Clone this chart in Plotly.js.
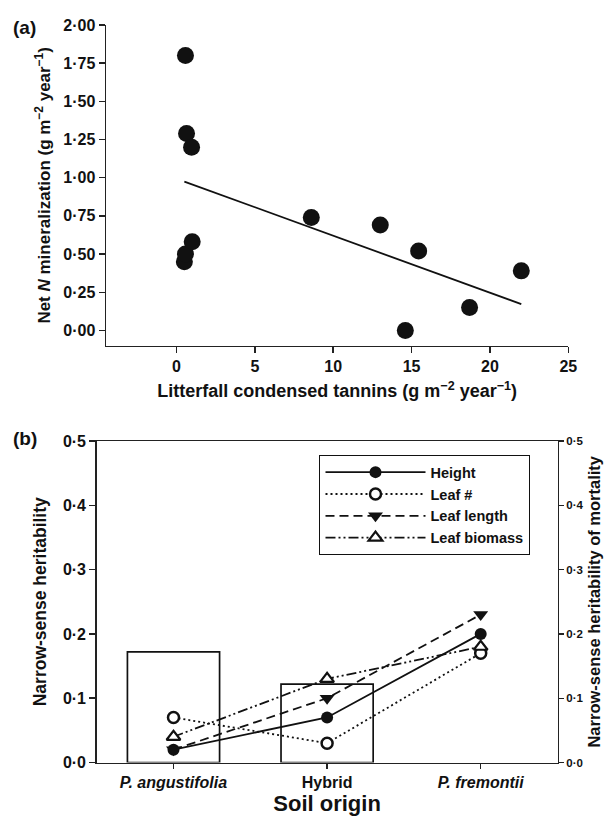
<!DOCTYPE html>
<html>
<head>
<meta charset="utf-8">
<script src="https://cdn.plot.ly/plotly-3.0.1.min.js"></script>
<style>html,body{margin:0;padding:0;background:#fff;}#chart{width:611px;height:816px;}</style>
</head>
<body>
<div id="chart"></div>
<script>
// ---- Panel (a) data ----
var tannins = [0.57, 0.64, 0.96, 0.50, 0.57, 1.00, 8.6, 13.0, 15.45, 14.6, 18.7, 22.0];
var netNMin = [1.80, 1.29, 1.20, 0.45, 0.50, 0.58, 0.74, 0.69, 0.52, 0.00, 0.15, 0.39];
var fitX = [0.5, 22.0];
var fitY = [0.975, 0.172];
var aYTickVals = [0, 0.25, 0.5, 0.75, 1.0, 1.25, 1.5, 1.75, 2.0];
var aYTickText = ['0·00', '0·25', '0·50', '0·75', '1·00', '1·25', '1·50', '1·75', '2·00'];
var aXTickVals = [0, 5, 10, 15, 20, 25];

// ---- Panel (b) data ----
var soilOrigin = ['P. angustifolia', 'Hybrid', 'P. fremontii'];
var soilTickText = ['<i>P. angustifolia</i>', 'Hybrid', '<i>P. fremontii</i>'];
var hHeight = [0.02, 0.07, 0.20];
var hLeafNum = [0.07, 0.03, 0.17];
var hLeafLength = [0.02, 0.10, 0.23];
var hLeafBiomass = [0.04, 0.13, 0.18];
var hMortality = [0.172, 0.122, null];
var bYTickVals = [0, 0.1, 0.2, 0.3, 0.4, 0.5];
var bYTickText = ['0·0', '0·1', '0·2', '0·3', '0·4', '0·5'];

var FONT = 'Liberation Sans, Arial, sans-serif';
var AX = '#222';

var traces = [
  {x: fitX, y: fitY, type: 'scatter', mode: 'lines', xaxis: 'x', yaxis: 'y',
   line: {color: '#111', width: 1.8}, showlegend: false, hoverinfo: 'skip'},
  {x: tannins, y: netNMin, type: 'scatter', mode: 'markers', xaxis: 'x', yaxis: 'y',
   marker: {color: '#111', size: 17, line: {width: 0}}, showlegend: false},
  {x: soilOrigin, y: hHeight, name: 'Height', type: 'scatter', mode: 'lines+markers',
   xaxis: 'x2', yaxis: 'y2',
   line: {color: '#111', width: 1.8, dash: 'solid'},
   marker: {symbol: 'circle', size: 12, color: '#111'}},
  {x: soilOrigin, y: hLeafNum, name: 'Leaf #', type: 'scatter', mode: 'lines+markers',
   xaxis: 'x2', yaxis: 'y2',
   line: {color: '#111', width: 1.8, dash: '2px,3px'},
   marker: {symbol: 'circle', size: 11, color: '#fff', line: {color: '#111', width: 2.5}}},
  {x: soilOrigin, y: hLeafLength, name: 'Leaf length', type: 'scatter', mode: 'lines+markers',
   xaxis: 'x2', yaxis: 'y2',
   line: {color: '#111', width: 1.8, dash: '9px,5px'},
   marker: {symbol: 'triangle-down', size: 13, color: '#111'}},
  {x: soilOrigin, y: hLeafBiomass, name: 'Leaf biomass', type: 'scatter', mode: 'lines+markers',
   xaxis: 'x2', yaxis: 'y2',
   line: {color: '#111', width: 1.8, dash: '10px,3px,2px,3px,2px,3px'},
   marker: {symbol: 'triangle-up', size: 12, color: '#fff', line: {color: '#111', width: 2.2}}},
  {x: soilOrigin, y: hMortality, type: 'bar', xaxis: 'x2', yaxis: 'y3', width: 0.6,
   marker: {color: 'rgba(0,0,0,0)', line: {color: '#111', width: 1.7}}, showlegend: false}
];

var tickFontBold = {family: FONT, size: 16, color: '#111', weight: 700};

var layout = {
  width: 611, height: 816,
  margin: {l: 0, r: 0, t: 0, b: 0},
  paper_bgcolor: '#fff', plot_bgcolor: 'rgba(0,0,0,0)',
  font: {family: FONT, color: '#111'},
  showlegend: true,
  hovermode: false,
  xaxis: {
    domain: [106 / 611, 568.3 / 611], anchor: 'y',
    range: [-4.5, 25], tickvals: aXTickVals, ticks: 'outside', ticklen: 6, tickwidth: 1.5, tickcolor: AX,
    showline: true, linecolor: AX, linewidth: 1.5, showgrid: false, zeroline: false,
    tickfont: tickFontBold,
    title: {text: 'Litterfall condensed tannins (g m<sup>−2</sup> year<sup>−1</sup>)',
            font: {family: FONT, size: 18, color: '#111', weight: 700}, standoff: 10}
  },
  yaxis: {
    domain: [1 - 345.7 / 816, 1 - 25 / 816], anchor: 'x',
    range: [-0.1, 2.0], tickvals: aYTickVals, ticktext: aYTickText,
    ticks: 'outside', ticklen: 6, tickwidth: 1.5, tickcolor: AX,
    showline: true, linecolor: AX, linewidth: 1.5, showgrid: false, zeroline: false,
    tickfont: tickFontBold,
    title: {text: 'Net <i>N</i> mineralization (g m<sup>−2</sup> year<sup>−1</sup>)',
            font: {family: FONT, size: 17, color: '#111', weight: 700}, standoff: 8}
  },
  xaxis2: {
    domain: [96.7 / 611, 557.5 / 611], anchor: 'y2',
    type: 'category', range: [-0.5, 2.5],
    tickvals: soilOrigin, ticktext: soilTickText,
    ticks: 'outside', ticklen: 5, tickwidth: 1.5, tickcolor: AX,
    showline: true, linecolor: AX, linewidth: 1.5, mirror: true, showgrid: false, zeroline: false,
    tickfont: {family: FONT, size: 16, color: '#111', weight: 700},
    title: {text: 'Soil origin', font: {family: FONT, size: 22, color: '#111', weight: 700}, standoff: 3}
  },
  yaxis2: {
    domain: [1 - 762.5 / 816, 1 - 441 / 816], anchor: 'x2',
    range: [0, 0.5], tickvals: bYTickVals, ticktext: bYTickText,
    ticks: 'outside', ticklen: 6, tickwidth: 1.5, tickcolor: AX,
    showline: true, linecolor: AX, linewidth: 1.5, showgrid: false, zeroline: false,
    tickfont: tickFontBold,
    title: {text: 'Narrow-sense heritability',
            font: {family: FONT, size: 17.5, color: '#111', weight: 700}, standoff: 12}
  },
  yaxis3: {
    overlaying: 'y2', side: 'right', anchor: 'x2',
    range: [0, 0.5], tickvals: bYTickVals, ticktext: bYTickText,
    ticks: 'outside', ticklen: 5, tickwidth: 1.2, tickcolor: AX,
    showline: true, linecolor: AX, linewidth: 1.5, showgrid: false, zeroline: false,
    tickfont: {family: FONT, size: 11.5, color: '#111', weight: 700},
    title: {text: 'Narrow-sense heritability of mortality',
            font: {family: FONT, size: 16.5, color: '#111', weight: 700}, standoff: 6}
  },
  legend: {
    x: 319.3 / 611, y: 1 - 455 / 816, xanchor: 'left', yanchor: 'top',
    bordercolor: '#111', borderwidth: 1.2, bgcolor: '#fff',
    font: {family: FONT, size: 14.5, color: '#111', weight: 700},
    itemwidth: 100, tracegroupgap: 0
  },
  annotations: [
    {text: '(a)', xref: 'paper', yref: 'paper', x: 11 / 611, y: 1 - 28 / 816,
     xanchor: 'left', yanchor: 'middle', showarrow: false,
     font: {family: FONT, size: 19, color: '#111', weight: 700}},
    {text: '(b)', xref: 'paper', yref: 'paper', x: 11 / 611, y: 1 - 438 / 816,
     xanchor: 'left', yanchor: 'middle', showarrow: false,
     font: {family: FONT, size: 19, color: '#111', weight: 700}}
  ]
};

Plotly.newPlot('chart', traces, layout, {staticPlot: true, displayModeBar: false});
</script>
</body>
</html>
